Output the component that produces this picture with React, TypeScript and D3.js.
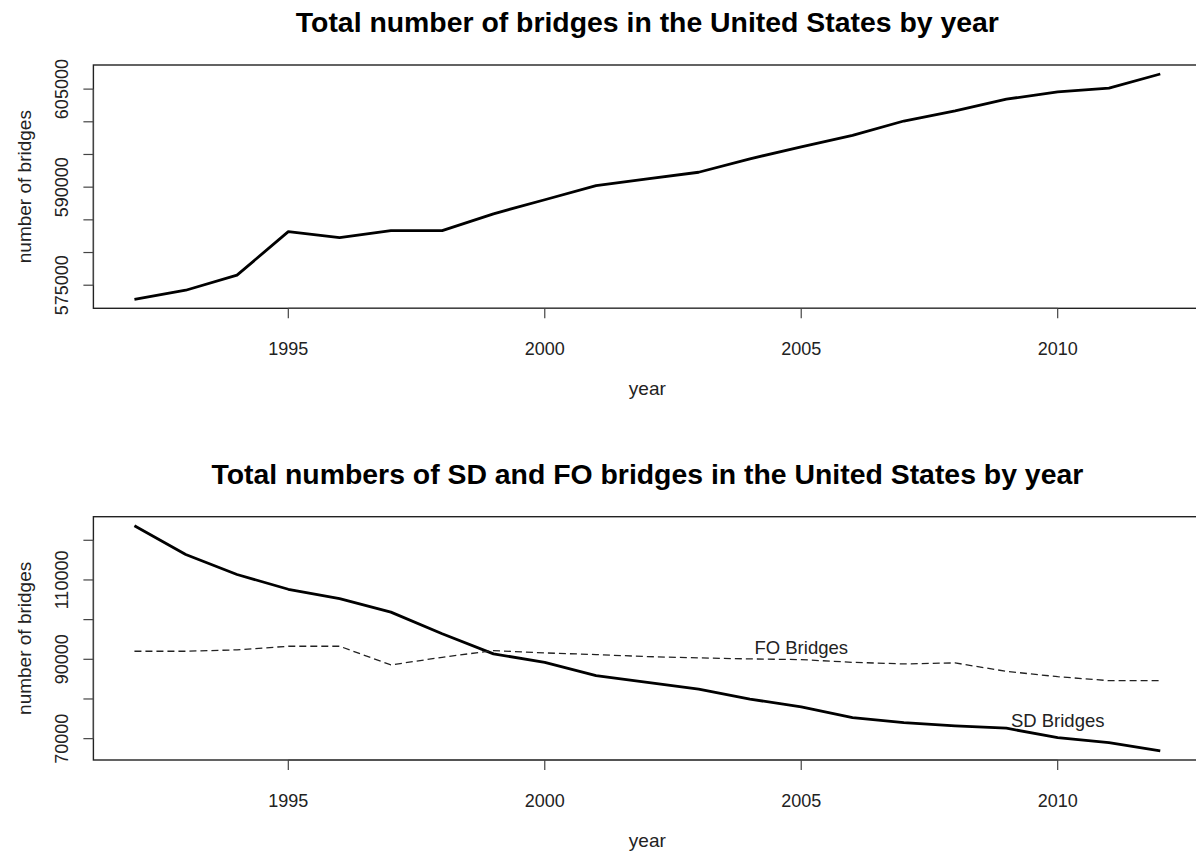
import React from "react";
import * as d3 from "d3";

const years = [1992,1993,1994,1995,1996,1997,1998,1999,2000,2001,2002,2003,2004,2005,2006,2007,2008,2009,2010,2011,2012];
const totalBridges = [572846,574231,576538,583200,582280,583350,583350,585923,588077,590230,591260,592280,594340,596180,597920,600120,601660,603460,604580,605150,607310];
const sdBridges = [123671,116430,111370,107650,105290,101900,96430,91370,89240,85870,84180,82500,79970,78020,75320,74050,73215,72630,70250,68990,66890];
const foBridges = [92030,92030,92380,93290,93290,88580,90510,92200,91610,91190,90680,90350,90100,89920,89240,88830,89090,86960,85620,84610,84610];

const xTicks = [1995, 2000, 2005, 2010];
const topYTicks = [575000, 580000, 585000, 590000, 595000, 600000, 605000];
const topYLabels = ["575000", "", "", "590000", "", "", "605000"];
const botYTicks = [70000, 80000, 90000, 100000, 110000, 120000];
const botYLabels = ["70000", "", "90000", "", "110000", ""];

const title1 = "Total number of bridges in the United States by year";
const title2 = "Total numbers of SD and FO bridges in the United States by year";
const xLabel = "year";
const yLabel = "number of bridges";
const seriesLabels = [
  { text: "FO Bridges", x: 2005, y: 93000 },
  { text: "SD Bridges", x: 2010, y: 74650 },
];

const FONT = "Arial, 'Liberation Sans', Helvetica, sans-serif";

function pad(ext: [number, number]): [number, number] {
  const r = ext[1] - ext[0];
  return [ext[0] - 0.04 * r, ext[1] + 0.04 * r];
}

type PanelProps = {
  top: number;
  bottom: number;
  title: string;
  yTicks: number[];
  yLabels: string[];
  yDomain: [number, number];
  children?: (x: d3.ScaleLinear<number, number>, y: d3.ScaleLinear<number, number>) => React.ReactNode;
};

const LEFT = 93.4;
const RIGHT = 1201.3;

function Panel({ top, bottom, title, yTicks, yLabels, yDomain, children }: PanelProps) {
  const x = d3.scaleLinear().domain(pad(d3.extent(years) as [number, number])).range([LEFT, RIGHT]);
  const y = d3.scaleLinear().domain(yDomain).range([bottom, top]);
  const midX = (LEFT + RIGHT) / 2;
  const midY = (top + bottom) / 2;
  return (
    <g>
      <text x={midX} y={top - 33} textAnchor="middle" fontFamily={FONT} fontWeight="bold" fontSize={28.4} fill="#000">{title}</text>
      <rect x={LEFT} y={top} width={RIGHT - LEFT} height={bottom - top} fill="none" stroke="#222" strokeWidth={1.4} />
      {/* x axis */}
      <line x1={x(xTicks[0])} x2={x(xTicks[xTicks.length - 1])} y1={bottom} y2={bottom} stroke="#444" strokeWidth={1.2} />
      {xTicks.map((t) => (
        <g key={t}>
          <line x1={x(t)} x2={x(t)} y1={bottom} y2={bottom + 10} stroke="#444" strokeWidth={1.2} />
          <text x={x(t)} y={bottom + 47} textAnchor="middle" fontFamily={FONT} fontSize={18} fill="#222">{t}</text>
        </g>
      ))}
      <text x={midX} y={bottom + 87} textAnchor="middle" fontFamily={FONT} fontSize={19} fill="#222">{xLabel}</text>
      {/* y axis */}
      <line x1={LEFT} x2={LEFT} y1={y(yTicks[0])} y2={y(yTicks[yTicks.length - 1])} stroke="#444" strokeWidth={1.2} />
      {yTicks.map((t, i) => (
        <g key={t}>
          <line x1={LEFT - 10} x2={LEFT} y1={y(t)} y2={y(t)} stroke="#444" strokeWidth={1.2} />
          {yLabels[i] && (
            <text transform={`translate(${LEFT - 25},${y(t)}) rotate(-90)`} textAnchor="middle" fontFamily={FONT} fontSize={18} fill="#222">{yLabels[i]}</text>
          )}
        </g>
      ))}
      <text transform={`translate(31,${midY}) rotate(-90)`} textAnchor="middle" fontFamily={FONT} fontSize={19} fill="#222">{yLabel}</text>
      {children && children(x, y)}
    </g>
  );
}

export default function App() {
  const topDomain = pad(d3.extent(totalBridges) as [number, number]);
  const botDomain = pad(d3.extent([...sdBridges, ...foBridges]) as [number, number]);
  return (
    <svg width={1196} height={852} style={{ position: "absolute", left: 0, top: 0, background: "#fff" }}>
      <rect x={0} y={0} width={1196} height={852} fill="#fff" />
      <Panel top={65} bottom={308.3} title={title1} yTicks={topYTicks} yLabels={topYLabels} yDomain={topDomain}>
        {(x, y) => {
          const line = d3.line<number>().x((_, i) => x(years[i])).y((d) => y(d));
          return <path d={line(totalBridges) || ""} fill="none" stroke="#000" strokeWidth={2.8} strokeLinejoin="round" />;
        }}
      </Panel>
      <Panel top={516.7} bottom={760} title={title2} yTicks={botYTicks} yLabels={botYLabels} yDomain={botDomain}>
        {(x, y) => {
          const line = d3.line<number>().x((_, i) => x(years[i])).y((d) => y(d));
          return (
            <g>
              <path d={line(sdBridges) || ""} fill="none" stroke="#000" strokeWidth={2.8} strokeLinejoin="round" />
              <path d={line(foBridges) || ""} fill="none" stroke="#222" strokeWidth={1.3} strokeDasharray="7,4" />
              {seriesLabels.map((s) => (
                <text key={s.text} x={x(s.x)} y={y(s.y) + 6.5} textAnchor="middle" fontFamily={FONT} fontSize={18.5} fill="#222">{s.text}</text>
              ))}
            </g>
          );
        }}
      </Panel>
    </svg>
  );
}
